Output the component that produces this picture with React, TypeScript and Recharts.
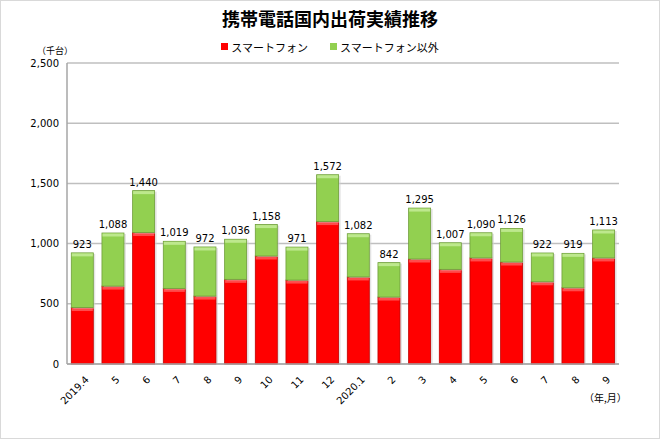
import { Bar, BarChart, CartesianGrid, LabelList, XAxis, YAxis } from "recharts"

const months = ["2019.4", "5", "6", "7", "8", "9", "10", "11", "12", "2020.1", "2", "3", "4", "5", "6", "7", "8", "9"]
const smartphone = [469, 647, 1092, 628, 564, 703, 897, 697, 1183, 723, 556, 872, 786, 881, 847, 683, 633, 881]
const totals = [923, 1088, 1440, 1019, 972, 1036, 1158, 971, 1572, 1082, 842, 1295, 1007, 1090, 1126, 922, 919, 1113]
const yTicks = [0, 500, 1000, 1500, 2000, 2500]

const data = months.map((m, i) => ({
  month: m,
  smart: smartphone[i],
  other: totals[i] - smartphone[i],
  total: totals[i],
}))

const JP = "'Noto Sans CJK JP', 'Noto Sans', sans-serif"
const NUM = "'DejaVu Sans', sans-serif"

const fmt = (v: number) => v.toLocaleString("en-US")

function makeShape(fill: string, top: string, stroke: string) {
  return (props: any) => {
    const { x, y, width, height } = props
    if (!height || height <= 0) return null
    return (
      <g>
        <rect x={x + 2} y={y + 1} width={width} height={height} fill="#d0d0d0" opacity={0.6} />
        <rect x={x} y={y} width={width} height={height} fill={fill} stroke={stroke} strokeWidth={0.8} />
        <rect x={x + 0.5} y={y + 0.5} width={width - 1} height={Math.min(3, height - 1)} fill={top} />
      </g>
    )
  }
}

const redShape = makeShape("#ff0000", "#ff4b4b", "#c00000")
const greenShape = makeShape("#92d050", "#bde88d", "#6f9e3a")

function MonthTick(props: any) {
  const { x, y, payload } = props
  return (
    <g transform={`translate(${x + 3},${y + 4})`}>
      <text textAnchor="end" transform="rotate(-45)" fontSize={10} fontFamily={NUM} fill="#000" dy={6}>
        {payload.value}
      </text>
    </g>
  )
}

function LegendItem({ color, label }: { color: string; label: string }) {
  return (
    <span style={{ display: "inline-flex", alignItems: "center", margin: "0 11px" }}>
      <span style={{ width: 7, height: 7, background: color, marginRight: 3, display: "inline-block" }} />
      <span>{label}</span>
    </span>
  )
}

export default function App() {
  return (
    <div
      style={{
        position: "absolute",
        left: 0,
        top: 0,
        width: 658,
        height: 437,
        border: "1px solid #d9d9d9",
        background: "#fff",
      }}
    >
      <div
        style={{
          position: "absolute",
          top: 4,
          width: "100%",
          textAlign: "center",
          fontFamily: JP,
          fontWeight: 700,
          fontSize: 18,
          color: "#000",
        }}
      >
        携帯電話国内出荷実績推移
      </div>
      <div
        style={{
          position: "absolute",
          top: 36,
          width: "100%",
          textAlign: "center",
          fontFamily: JP,
          fontSize: 11,
          color: "#000",
        }}
      >
        <LegendItem color="#ff0000" label="スマートフォン" />
        <LegendItem color="#92d050" label="スマートフォン以外" />
      </div>
      <div style={{ position: "absolute", left: 36, top: 43, fontFamily: JP, fontSize: 9, color: "#000" }}>
        （千台）
      </div>
      <div style={{ position: "absolute", left: 583, top: 389, fontFamily: JP, fontSize: 10, color: "#000" }}>
        （年,月）
      </div>
      <BarChart
        width={658}
        height={437}
        data={data}
        margin={{ top: 62, right: 40, left: 6, bottom: 22 }}
        barCategoryGap="14%"
      >
        <CartesianGrid vertical={false} stroke="#bfbfbf" strokeWidth={1.5} />
        <XAxis
          dataKey="month"
          tick={<MonthTick />}
          tickLine={false}
          axisLine={{ stroke: "#a6a6a6", strokeWidth: 1.5 }}
          interval={0}
          height={52}
        />
        <YAxis
          domain={[0, 2500]}
          ticks={yTicks}
          tickFormatter={fmt}
          tickLine={false}
          axisLine={{ stroke: "#a6a6a6", strokeWidth: 1.5 }}
          tick={{ fontSize: 10, fontFamily: NUM, fill: "#000" }}
          width={60}
        />
        <Bar dataKey="smart" stackId="a" shape={redShape} isAnimationActive={false} />
        <Bar dataKey="other" stackId="a" shape={greenShape} isAnimationActive={false}>
          <LabelList
            dataKey="total"
            position="top"
            offset={5}
            formatter={(v: any) => fmt(Number(v))}
            style={{ fontSize: 10, fontFamily: NUM, fill: "#000" }}
          />
        </Bar>
      </BarChart>
    </div>
  )
}
